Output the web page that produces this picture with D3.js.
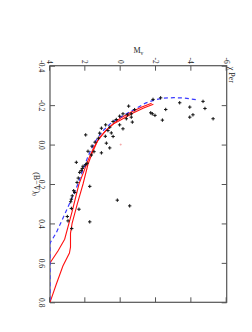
<!DOCTYPE html>
<html><head><meta charset="utf-8">
<script src="https://cdn.jsdelivr.net/npm/d3@7"></script>
<style>html,body{margin:0;padding:0;background:#fff;}svg{display:block;}</style>
</head><body>
<script>
// Star data: absolute magnitude Mv and colour (B-V)0
const starMv = [-2.26,-1.83,-3.34,-4.66,-3.91,-4.77,-2.55,-4.09,-3.91,-5.23,-1.70,-1.79,-1.94,-2.36,-0.45,-0.79,-0.60,-0.38,-0.13,0.06,-0.60,-0.66,-0.32,0.25,0.43,0.06,-0.13,0.85,1.09,0.62,0.72,1.19,0.53,0.87,0.43,1.26,1.98,0.81,0.62,1.45,1.62,1.85,1.51,1.09,1.66,2.51,1.91,1.98,2.13,2.17,2.23,2.32,2.40,2.47,1.75,2.66,2.60,2.74,2.79,2.83,2.36,2.79,3.02,2.98,2.77,1.75,0.19,-0.51];
const starBV = [-0.237,-0.229,-0.212,-0.219,-0.190,-0.183,-0.178,-0.151,-0.139,-0.131,-0.161,-0.156,-0.148,-0.124,-0.195,-0.177,-0.156,-0.151,-0.156,-0.144,-0.139,-0.114,-0.131,-0.127,-0.117,-0.100,-0.080,-0.100,-0.083,-0.088,-0.071,-0.058,-0.059,-0.042,-0.041,-0.032,-0.049,-0.007,0.017,-0.012,0.008,0.034,0.036,0.042,0.053,0.090,0.095,0.102,0.110,0.121,0.132,0.141,0.170,0.192,0.212,0.234,0.243,0.260,0.277,0.290,0.328,0.324,0.365,0.387,0.426,0.392,0.282,0.311];
// faint reference marker
const markMv = [0.0];
const markBV = [0.0];
// ZAMS (blue dashed)
const zamsMv = [-4.25,-3.6,-3.0,-2.4,-1.9,-1.4,-0.9,-0.4,0.1,0.6,1.0,1.3,1.6,1.85,2.1,2.42,2.8,3.2,3.64,4.0,4.5,5.0,5.5,5.9];
const zamsBV = [-0.228,-0.236,-0.238,-0.235,-0.226,-0.21,-0.185,-0.16,-0.135,-0.105,-0.07,-0.035,0.01,0.06,0.12,0.2,0.28,0.36,0.446,0.5,0.58,0.66,0.74,0.8];
// isochrone A (red)
const isoAMv = [-1.85,-1.3,-0.7,-0.1,0.4,0.8,1.2,1.55,1.85,2.1,2.36,2.75,3.17,3.55,4.0];
const isoABV = [-0.205,-0.185,-0.16,-0.13,-0.105,-0.075,-0.035,0.02,0.08,0.14,0.2,0.34,0.48,0.54,0.6];
// isochrone B (red)
const isoBMv = [-1.75,-1.2,-0.6,0.0,0.5,0.9,1.3,1.6,1.85,2.13,2.45,2.75,2.84,2.84,2.9,3.27,3.65,4.0];
const isoBBV = [-0.21,-0.19,-0.165,-0.135,-0.1,-0.065,-0.02,0.04,0.1,0.2,0.3,0.4,0.45,0.52,0.55,0.616,0.71,0.8];
// ticks
const bvTicks = [-0.4,-0.2,0.0,0.2,0.4,0.6,0.8];
const bvTickLabels = ["-0.4","-0.2","0.0","0.2","0.4","0.6","0.8"];
const mvTicks = [4,2,0,-2,-4,-6];
const mvTickLabels = ["4","2","0","-2","-4","-6"];

const W = 252, H = 332;
const pw = 236.6, ph = 176.7;
const svg = d3.select("body").append("svg").attr("width", W).attr("height", H);
const g = svg.append("g").attr("transform", "translate(226.7,65.7) rotate(90)");

const x = d3.scaleLinear().domain([-0.4, 0.8]).range([0, pw]);
const y = d3.scaleLinear().domain([-6, 4]).range([0, ph]).clamp(true);

const font = "'Liberation Serif', 'DejaVu Serif', serif";
const axisCol = "#555";

g.append("defs").append("clipPath").attr("id", "clip")
  .append("rect").attr("x", 0).attr("y", 0).attr("width", pw).attr("height", ph);

// axes
const ax1 = g.append("g").attr("transform", `translate(0,${ph})`)
  .call(d3.axisBottom(x).tickValues(bvTicks).tickFormat((d, i) => bvTickLabels[i]).tickSizeInner(-5).tickSizeOuter(0).tickPadding(6));
const ax2 = g.append("g")
  .call(d3.axisTop(x).tickValues(bvTicks).tickFormat("").tickSizeInner(-5).tickSizeOuter(0));
const ax3 = g.append("g")
  .call(d3.axisLeft(y).tickValues(mvTicks).tickFormat((d, i) => mvTickLabels[i]).tickSizeInner(-5).tickSizeOuter(0).tickPadding(2));
const ax4 = g.append("g").attr("transform", `translate(${pw},0)`)
  .call(d3.axisRight(y).tickValues(mvTicks).tickFormat("").tickSizeInner(-5).tickSizeOuter(0));
[ax1, ax2, ax3, ax4].forEach(a => {
  a.select(".domain").remove();
  a.selectAll("line").attr("stroke", axisCol).attr("stroke-width", 1);
  a.selectAll("text").attr("font-family", font).attr("font-size", 7.5).attr("fill", "#222");
});

// frame
g.append("rect").attr("x", 0).attr("y", 0).attr("width", pw).attr("height", ph)
  .attr("fill", "none").attr("stroke", axisCol).attr("stroke-width", 1.2);

const plot = g.append("g").attr("clip-path", "url(#clip)");

function lineOf(mv, bv) {
  return d3.line().x(d => x(d[1])).y(d => y(d[0]))(mv.map((m, i) => [m, bv[i]]));
}

plot.append("path").attr("d", lineOf(isoAMv, isoABV)).attr("fill", "none").attr("stroke", "#ff1010").attr("stroke-width", 1.1);
plot.append("path").attr("d", lineOf(isoBMv, isoBBV)).attr("fill", "none").attr("stroke", "#ff1010").attr("stroke-width", 1.1);
plot.append("path").attr("d", lineOf(zamsMv, zamsBV)).attr("fill", "none").attr("stroke", "#3a3aff").attr("stroke-width", 1.2).attr("stroke-dasharray", "4,3");

// stars as plus signs
const s = 1.7;
const stars = starMv.map((m, i) => [m, starBV[i]]);
plot.selectAll("path.star").data(stars).enter().append("path")
  .attr("class", "star")
  .attr("d", d => { const cx = x(d[1]), cy = y(d[0]); return `M${cx - s},${cy}H${cx + s}M${cx},${cy - s}V${cy + s}`; })
  .attr("stroke", "#111").attr("stroke-width", 1);
plot.selectAll("path.mark").data(markMv.map((m, i) => [m, markBV[i]])).enter().append("path")
  .attr("class", "mark")
  .attr("d", d => { const cx = x(d[1]), cy = y(d[0]); return `M${cx - 1},${cy}H${cx + 1}M${cx},${cy - 1}V${cy + 1}`; })
  .attr("stroke", "#f4a0a0").attr("stroke-width", 0.8);

// titles
const xt = g.append("text").attr("x", pw / 2).attr("y", ph + 16).attr("text-anchor", "middle")
  .attr("font-family", font).attr("font-size", 8).attr("fill", "#222");
xt.append("tspan").text("(B\u2212V)");
xt.append("tspan").attr("dy", 2).attr("font-size", 5.5).text("0");

const yt = g.append("text").attr("transform", `translate(-13,${ph / 2}) rotate(-90)`).attr("text-anchor", "middle")
  .attr("font-family", font).attr("font-size", 8).attr("fill", "#222");
yt.append("tspan").text("M");
yt.append("tspan").attr("dy", 2).attr("font-size", 5.5).text("v");

g.append("text").attr("x", 1).attr("y", -2).attr("font-family", font).attr("font-size", 8).attr("fill", "#222")
  .text("\u03C7 Per");
</script>
</body></html>
